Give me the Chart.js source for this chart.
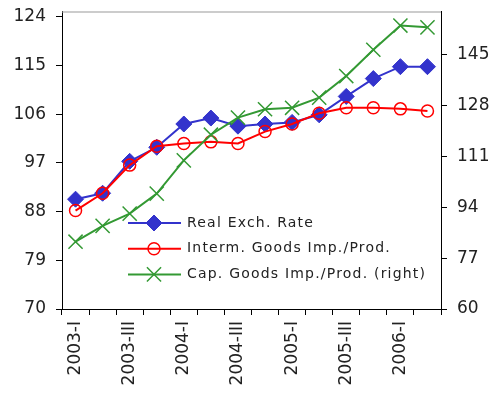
<!DOCTYPE html>
<html>
<head>
<meta charset="utf-8">
<script src="https://cdn.jsdelivr.net/npm/chart.js@4.4.1/dist/chart.umd.min.js"></script>
<style>
  body { margin: 0; background: #fff; }
</style>
</head>
<body>
<canvas id="myChart" width="493" height="401"></canvas>
<script>
// quarters 2003-I .. 2006-II
const quarters = [
  "2003-I", "2003-II", "2003-III", "2003-IV",
  "2004-I", "2004-II", "2004-III", "2004-IV",
  "2005-I", "2005-II", "2005-III", "2005-IV",
  "2006-I", "2006-II"
];
const realExchRate = [90.3, 91.4, 97.3, 99.9, 104.2, 105.3, 103.8, 104.2, 104.5, 105.9, 109.3, 112.6, 114.8, 114.8];
const intermGoods = [88.2, 91.4, 96.6, 100.1, 100.6, 100.9, 100.6, 102.8, 104.2, 106.2, 107.2, 107.2, 107.0, 106.6];
const capGoods = [82.5, 87.8, 91.9, 98.6, 109.7, 118.3, 124.0, 126.8, 127.3, 130.7, 137.9, 146.7, 154.8, 154.2];
const leftTicks = [70, 79, 88, 97, 106, 115, 124];
const rightTicks = [60, 77, 94, 111, 128, 145];

const FONT = "'DejaVu Sans', sans-serif";

// legend sits inside the plot, like the original
const legendInPlot = {
  id: "legendInPlot",
  afterDatasetsDraw(chart) {
    const ctx = chart.ctx;
    const area = chart.chartArea;
    chart.data.datasets.forEach((ds, i) => {
      const y = 223 + i * 25.7;
      const x0 = area.left + 66;
      ctx.save();
      ctx.strokeStyle = ds.borderColor;
      ctx.lineWidth = ds.borderWidth;
      ctx.beginPath();
      ctx.moveTo(x0, y);
      ctx.lineTo(x0 + 53, y);
      ctx.stroke();
      ctx.fillStyle = ds.pointBackgroundColor;
      ctx.strokeStyle = ds.borderColor;
      ctx.lineWidth = ds.pointBorderWidth;
      Chart.helpers.drawPoint(ctx, {
        pointStyle: ds.pointStyle,
        radius: ds.pointRadius,
        borderWidth: ds.pointBorderWidth,
        rotation: 0
      }, x0 + 26, y);
      ctx.fillStyle = "#222";
      ctx.font = "14px " + FONT;
      ctx.letterSpacing = "1.2px";
      ctx.textBaseline = "middle";
      ctx.fillText(ds.label, x0 + 59, y);
      ctx.restore();
    });
    // grey top edge of the plot box
    ctx.save();
    ctx.strokeStyle = "#999";
    ctx.lineWidth = 1;
    ctx.beginPath();
    ctx.moveTo(area.left, area.top + 0.5);
    ctx.lineTo(area.right, area.top + 0.5);
    ctx.stroke();
    ctx.restore();
  }
};

// fixed axis sizes so the plot box lands where the original has it
function fixWidth(w) {
  return function (scale) {
    scale.width = w;
    scale.paddingTop = 0;
    scale.paddingBottom = 0;
  };
}

const ctx = document.getElementById("myChart");

new Chart(ctx, {
  type: "line",
  data: {
    labels: quarters,
    datasets: [
      {
        label: "Real Exch. Rate",
        data: realExchRate,
        yAxisID: "y",
        borderColor: "#3333cc",
        backgroundColor: "#3333cc",
        pointBackgroundColor: "#3333cc",
        borderWidth: 2,
        pointStyle: "rectRot",
        pointRadius: 8,
        pointBorderWidth: 1,
        order: 3
      },
      {
        label: "Interm. Goods Imp./Prod.",
        data: intermGoods,
        yAxisID: "y",
        borderColor: "#ff0000",
        backgroundColor: "#ff0000",
        pointBackgroundColor: "rgba(0,0,0,0)",
        borderWidth: 2,
        pointStyle: "circle",
        pointRadius: 6,
        pointBorderWidth: 1.5,
        order: 2
      },
      {
        label: "Cap. Goods Imp./Prod. (right)",
        data: capGoods,
        yAxisID: "y1",
        borderColor: "#339933",
        backgroundColor: "#339933",
        pointBackgroundColor: "#339933",
        borderWidth: 2,
        pointStyle: "crossRot",
        pointRadius: 10,
        pointBorderWidth: 1.5,
        order: 1
      }
    ]
  },
  options: {
    responsive: false,
    animation: false,
    layout: { padding: { top: 11, left: 0, right: 0, bottom: 0 } },
    plugins: {
      legend: { display: false },
      tooltip: { enabled: false }
    },
    scales: {
      x: {
        offset: true,
        grid: {
          offset: true,
          drawOnChartArea: false,
          color: "#000",
          tickLength: 6
        },
        border: { color: "#000", width: 1 },
        ticks: {
          autoSkip: false,
          minRotation: 90,
          maxRotation: 90,
          padding: 6,
          color: "#222",
          font: { family: FONT, size: 17 },
          callback: function (val, idx) {
            return idx % 2 === 0 ? this.getLabelForValue(val) : "";
          }
        },
        afterFit(scale) {
          scale.height = 92;
          scale.paddingLeft = 0;
          scale.paddingRight = 0;
        }
      },
      y: {
        position: "left",
        min: 70,
        max: 125,
        afterBuildTicks(scale) { scale.ticks = leftTicks.map(v => ({ value: v })); },
        grid: { drawOnChartArea: false, color: "#000", tickLength: 6 },
        border: { color: "#000", width: 1 },
        ticks: { padding: 10, color: "#222", font: { family: FONT, size: 17 } },
        afterFit: fixWidth(62)
      },
      y1: {
        position: "right",
        min: 60,
        max: 159.5,
        afterBuildTicks(scale) { scale.ticks = rightTicks.map(v => ({ value: v })); },
        grid: { drawOnChartArea: false, color: "#000", tickLength: 6 },
        border: { color: "#000", width: 1 },
        ticks: { padding: 10, color: "#222", font: { family: FONT, size: 17 } },
        afterFit: fixWidth(52)
      }
    }
  },
  plugins: [legendInPlot]
});
</script>
</body>
</html>
